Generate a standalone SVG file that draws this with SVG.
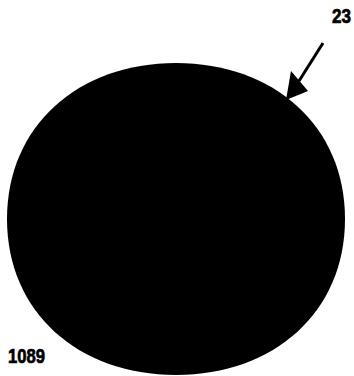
<svg xmlns="http://www.w3.org/2000/svg" width="354" height="376" viewBox="0 0 354 376">
<style>
.lbl{font-family:"Liberation Sans",Arial,sans-serif;font-weight:bold;font-size:21px;fill:#000;stroke:#000;stroke-width:0.7}
</style>
<rect width="354" height="376" fill="#fff"/>
<g id="body">
<path d="M176,63 C274,63 345,126 345,219 C345,312 274,375 176,375 C78,375 7,312 7,219 C7,126 78,63 176,63 Z" fill="#000"/>
</g>
<g id="connectors">
<line x1="323" y1="43" x2="299" y2="81" stroke="#000" stroke-width="3"/>
<path d="M291,71 L308,91 L286,100 Z" fill="#000"/>
</g>
<g id="label-23"><text class="lbl" x="332" y="23" textLength="19" lengthAdjust="spacingAndGlyphs">23</text></g>
<g id="label-1089"><text class="lbl" x="8" y="363" textLength="37" lengthAdjust="spacingAndGlyphs">1089</text></g>
</svg>
